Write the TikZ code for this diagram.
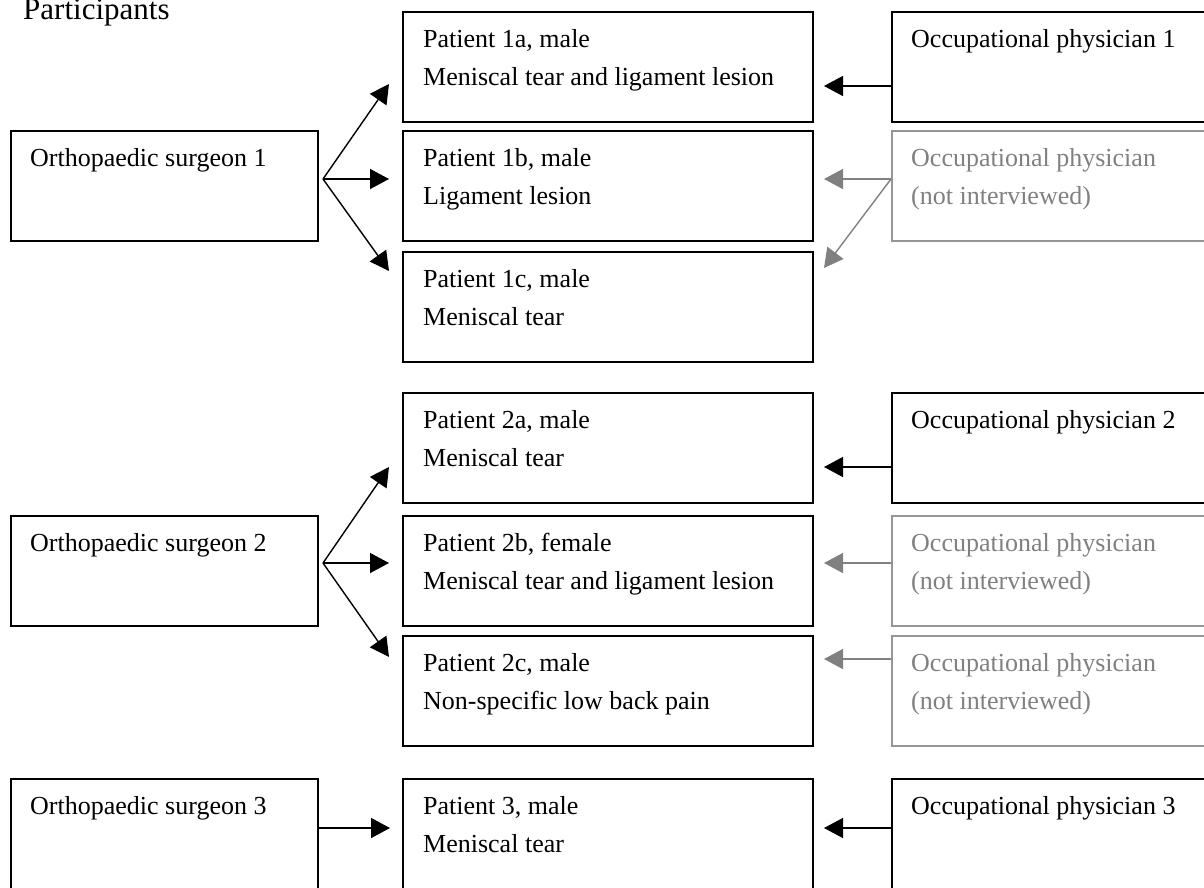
\documentclass[tikz,border=0pt]{standalone}
\usepackage{fontspec}
\setmainfont{Liberation Serif}
\usetikzlibrary{arrows.meta}
\definecolor{gtext}{RGB}{128,128,128}
\definecolor{gline}{RGB}{150,150,150}
\begin{document}
\begin{tikzpicture}[x=1pt,y=-1pt,
  box/.style={draw=black, line width=1.6pt, rectangle, anchor=north west, inner sep=0pt, minimum height=110pt},
  gbox/.style={box, draw=gline},
  sbox/.style={box, minimum width=307pt},
  pbox/.style={box, minimum width=410pt},
  obox/.style={box, minimum width=340pt},
  gobox/.style={gbox, minimum width=340pt},
  txt/.style={anchor=base west, inner sep=0pt, align=left, font=\fontsize{26}{38}\selectfont},
  gtxt/.style={txt, text=gtext},
  arr/.style={line width=1.4pt, -{Triangle[length=19pt,width=20pt]}},
  garr/.style={arr, draw=gtext, -{Triangle[length=19pt,width=20pt,color=gtext]}}
]
\useasboundingbox (0,0) rectangle (1204,887);
\clip (0,0) rectangle (1204,887);

\node[anchor=base west, inner sep=0pt, font=\fontsize{31}{36}\selectfont] (title) at (23,19) {Participants};

% group 1
\node[sbox] (s1) at (10,130) {};
\node[pbox] (p1a) at (402,11) {};
\node[pbox] (p1b) at (402,130) {};
\node[pbox] (p1c) at (402,251) {};
\node[obox] (o1) at (891,11) {};
\node[gobox] (g1) at (891,130) {};

\node[txt] (ts1) at ([shift={(20,36)}]s1.north west) {Orthopaedic surgeon 1};
\node[txt] (tp1a) at ([shift={(21,74)}]p1a.north west) {Patient 1a, male\\Meniscal tear and ligament lesion};
\node[txt] (tp1b) at ([shift={(21,74)}]p1b.north west) {Patient 1b, male\\Ligament lesion};
\node[txt] (tp1c) at ([shift={(21,74)}]p1c.north west) {Patient 1c, male\\Meniscal tear};
\node[txt] (to1) at ([shift={(20,36)}]o1.north west) {Occupational physician 1};
\node[gtxt] (tg1) at ([shift={(20,74)}]g1.north west) {Occupational physician\\(not interviewed)};

% group 2
\node[sbox] (s2) at (10,515) {};
\node[pbox] (p2a) at (402,392) {};
\node[pbox] (p2b) at (402,515) {};
\node[pbox] (p2c) at (402,635) {};
\node[obox] (o2) at (891,392) {};
\node[gobox] (g2b) at (891,515) {};
\node[gobox] (g2c) at (891,635) {};

\node[txt] (ts2) at ([shift={(20,36)}]s2.north west) {Orthopaedic surgeon 2};
\node[txt] (tp2a) at ([shift={(21,74)}]p2a.north west) {Patient 2a, male\\Meniscal tear};
\node[txt] (tp2b) at ([shift={(21,74)}]p2b.north west) {Patient 2b, female\\Meniscal tear and ligament lesion};
\node[txt] (tp2c) at ([shift={(21,74)}]p2c.north west) {Patient 2c, male\\Non-specific low back pain};
\node[txt] (to2) at ([shift={(20,36)}]o2.north west) {Occupational physician 2};
\node[gtxt] (tg2b) at ([shift={(20,74)}]g2b.north west) {Occupational physician\\(not interviewed)};
\node[gtxt] (tg2c) at ([shift={(20,74)}]g2c.north west) {Occupational physician\\(not interviewed)};

% group 3
\node[sbox] (s3) at (10,778) {};
\node[pbox] (p3) at (402,778) {};
\node[obox] (o3) at (891,778) {};
\node[txt] (ts3) at ([shift={(20,36)}]s3.north west) {Orthopaedic surgeon 3};
\node[txt] (tp3) at ([shift={(21,74)}]p3.north west) {Patient 3, male\\Meniscal tear};
\node[txt] (to3) at ([shift={(20,36)}]o3.north west) {Occupational physician 3};

% connector coordinates
\coordinate (f1) at (323,179);
\coordinate (a1a) at (389,84);
\coordinate (a1b) at (389,179);
\coordinate (a1c) at (389,271);
\coordinate (b1a) at (824,86);
\coordinate (b1b) at (824,179);
\coordinate (b1c) at (824,268);

\coordinate (f2) at (323,563);
\coordinate (a2a) at (389,467);
\coordinate (a2b) at (389,563);
\coordinate (a2c) at (389,657);
\coordinate (b2a) at (824,467);
\coordinate (b2b) at (824,563);
\coordinate (b2c) at (824,659);

\coordinate (a3) at (390,828);
\coordinate (b3) at (824,828);

% surgeon arrows
\draw[arr] (f1) -- (a1a);
\draw[arr] (f1) -- (a1b);
\draw[arr] (f1) -- (a1c);
\draw[arr] (f2) -- (a2a);
\draw[arr] (f2) -- (a2b);
\draw[arr] (f2) -- (a2c);
\draw[arr] (s3.east |- a3) -- (a3);

% physician arrows
\draw[arr] (o1.west |- b1a) -- (b1a);
\draw[garr] (g1.west |- b1b) -- (b1b);
\draw[garr] (g1.west |- b1b) -- (b1c);
\draw[arr] (o2.west |- b2a) -- (b2a);
\draw[garr] (g2b.west |- b2b) -- (b2b);
\draw[garr] (g2c.west |- b2c) -- (b2c);
\draw[arr] (o3.west |- b3) -- (b3);
\end{tikzpicture}
\end{document}
